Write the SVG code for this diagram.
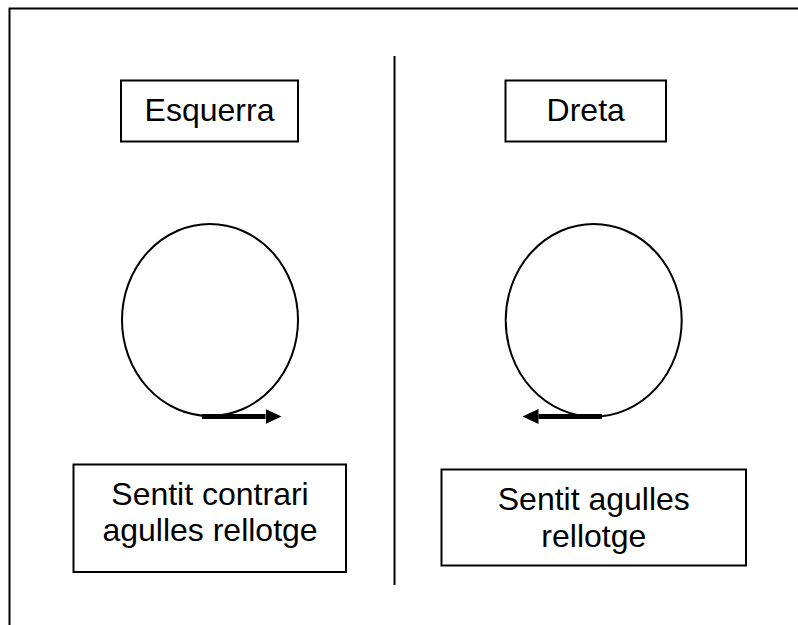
<svg xmlns="http://www.w3.org/2000/svg" width="798" height="625" viewBox="0 0 798 625">
  <style>
    .box { fill: #ffffff; stroke: #000000; stroke-width: 2; }
    .circ { fill: none; stroke: #000000; stroke-width: 2; }
    .frame { fill: none; stroke: #000000; stroke-width: 2; }
    .lbl { font-family: "Liberation Sans", Arial, sans-serif; font-size: 32px; fill: #000000; text-anchor: middle; }
    .arrow { stroke: #000000; stroke-width: 5; fill: none; marker-end: url(#head); }
  </style>
  <defs>
    <marker id="head" markerUnits="userSpaceOnUse" markerWidth="16" markerHeight="15" refX="0" refY="7.5" orient="auto">
      <path d="M0,0 L16,7.5 L0,15 Z" fill="#000000"/>
    </marker>
  </defs>
  <rect width="798" height="625" fill="#ffffff"/>
  <g id="frame">
    <path class="frame" d="M9.5,625 L9.5,8.5 L798,8.5"/>
    <line class="frame" x1="394.5" y1="56" x2="394.5" y2="585"/>
  </g>
  <g id="esquerra">
    <rect class="box" x="121" y="80.5" width="177" height="61"/>
    <text class="lbl" x="209.5" y="121">Esquerra</text>
  </g>
  <g id="dreta">
    <rect class="box" x="505.5" y="80.5" width="160.5" height="61"/>
    <text class="lbl" x="585.7" y="121">Dreta</text>
  </g>
  <g id="circle-left">
    <ellipse class="circ" cx="210" cy="320" rx="88" ry="96"/>
  </g>
  <g id="circle-right">
    <ellipse class="circ" cx="593.7" cy="320.3" rx="88" ry="96.3"/>
  </g>
  <g id="connectors">
    <line class="arrow" x1="202" y1="416.5" x2="265.5" y2="416.5"/>
    <line class="arrow" x1="602" y1="416.5" x2="538.5" y2="416.5"/>
  </g>
  <g id="label-left">
    <rect class="box" x="73.5" y="464.5" width="272.5" height="107.5"/>
    <text class="lbl" x="210" y="504.5">Sentit contrari</text>
    <text class="lbl" x="210" y="541">agulles rellotge</text>
  </g>
  <g id="label-right">
    <rect class="box" x="441.5" y="469.5" width="304.5" height="96"/>
    <text class="lbl" x="593.8" y="510">Sentit agulles</text>
    <text class="lbl" x="593.8" y="546.5">rellotge</text>
  </g>
</svg>
